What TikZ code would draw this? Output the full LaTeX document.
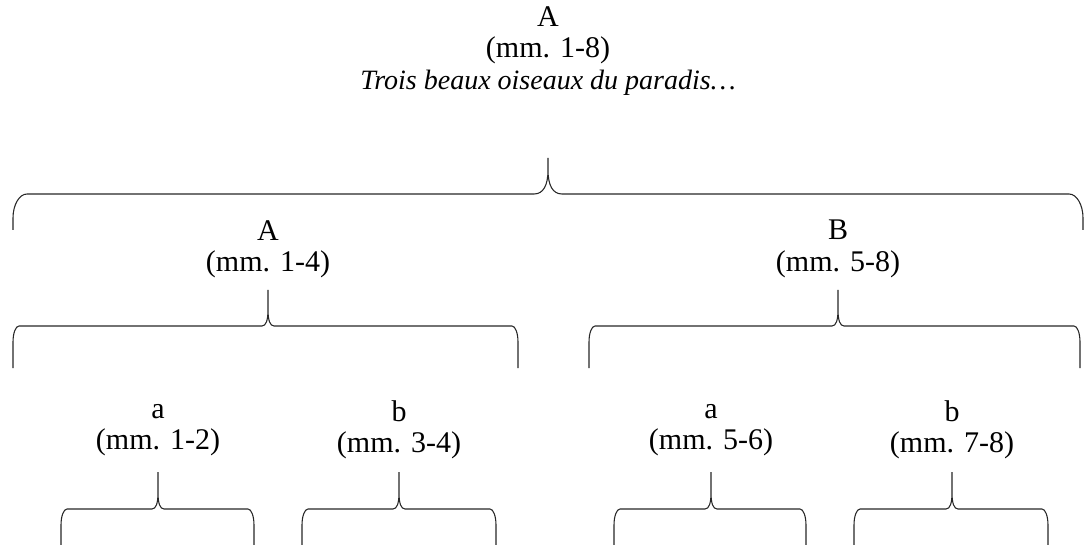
\documentclass[tikz,border=0pt]{standalone}
\usepackage{fontspec}
\setmainfont{Liberation Serif}
\usetikzlibrary{calc}

% curly bracket under a label: node, left x, right x, tip y, line y, foot y, bend width, bend height
\newcommand{\bracket}[8]{%
  \coordinate (m) at (#1.south |- 0,#5);
  \draw[brace line]
    (#2,#6) -- (#2,#5+#8)
      .. controls (#2,#5+0.45*#8) and (#2+0.45*#7,#5) .. (#2+#7,#5)
    -- ($(m)+(-#7,0)$)
      .. controls ($(m)+(-0.35*#7,0)$) and ($(m)+(0,-0.35*#8)$) .. ($(m)+(0,-#8)$)
    -- (m |- 0,#4)
    ($(m)+(0,-#8)$)
      .. controls ($(m)+(0,-0.35*#8)$) and ($(m)+(0.35*#7,0)$) .. ($(m)+(#7,0)$)
    -- (#3-#7,#5)
      .. controls (#3-0.45*#7,#5) and (#3,#5+0.45*#8) .. (#3,#5+#8)
    -- (#3,#6);
}

\begin{document}
\begin{tikzpicture}[
  x=0.75pt, y=-0.75pt,
  label text/.style = {
    align=center,
    inner sep=0pt,
    font=\fontsize{22.5}{23.5}\selectfont
  },
  brace line/.style = {
    draw=black!85,
    line width=0.8pt
  },
]
  \useasboundingbox (0,0) rectangle (1092,545);

  \node (whole) at (548,51) [label text]
    {A\\(mm. 1-8)\\\fontsize{21}{23.5}\selectfont\itshape Trois beaux oiseaux du paradis…};

  \node (partA) at (268,249) [label text] {A\\(mm. 1-4)};
  \node (partB) at (838,249) [label text] {B\\(mm. 5-8)};

  \node (partAa) at (158,430) [label text] {a\\(mm. 1-2)};
  \node (partAb) at (399,430) [label text] {b\\(mm. 3-4)};
  \node (partBa) at (711,430) [label text] {a\\(mm. 5-6)};
  \node (partBb) at (952,430) [label text] {b\\(mm. 7-8)};

  % brackets
  \bracket{whole}{13}{1083}{158}{194}{230}{14}{24}
  \bracket{partA}{13}{518}{290}{326}{368}{6}{16}
  \bracket{partB}{589}{1080}{290}{326}{368}{6}{16}
  \bracket{partAa}{61}{254}{472}{509}{548}{6}{16}
  \bracket{partAb}{302}{496}{472}{509}{548}{6}{16}
  \bracket{partBa}{614}{806}{472}{509}{548}{6}{16}
  \bracket{partBb}{854}{1048}{472}{509}{548}{6}{16}
\end{tikzpicture}
\end{document}
